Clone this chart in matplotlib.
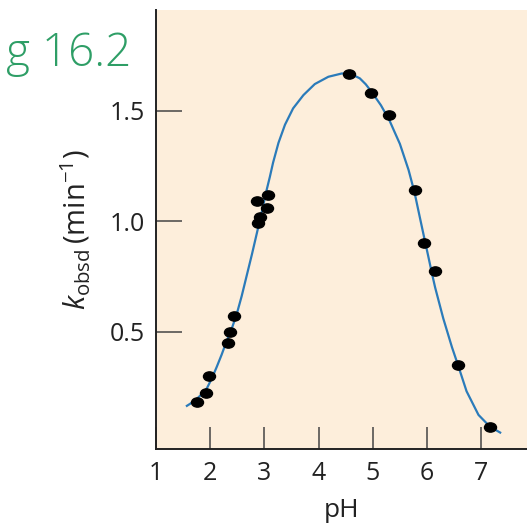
import matplotlib
matplotlib.use("Agg")
import matplotlib.pyplot as plt
from matplotlib.path import Path
from matplotlib.transforms import Affine2D

# ── Style ─────────────────────────────────────────────────────────────────────
BG    = "#fdeedb"
LINE  = "#2b7bba"
GREEN = "#2e9e66"
INK   = "#222222"

plt.rcParams["font.family"] = ["Open Sans", "DejaVu Sans"]
plt.rcParams["mathtext.fontset"] = "custom"
plt.rcParams["mathtext.rm"] = "Open Sans"
plt.rcParams["mathtext.it"] = "Open Sans:italic"

# ── Data ──────────────────────────────────────────────────────────────────────
ph_obs = [1.75, 1.92, 1.97, 2.32, 2.37, 2.44, 2.89, 2.92, 2.87, 3.05, 3.07,
          4.57, 4.97, 5.30, 5.77, 5.94, 6.14, 6.57, 7.16]
k_obs  = [0.18, 0.22, 0.30, 0.45, 0.50, 0.57, 0.99, 1.02, 1.09, 1.06, 1.12,
          1.666, 1.58, 1.48, 1.14, 0.90, 0.775, 0.35, 0.067]

# fitted curve, traced
ph_fit = [1.57, 1.66, 1.75, 1.85, 1.94, 2.03, 2.12, 2.21, 2.30, 2.40, 2.49,
          2.58, 2.67, 2.77, 2.86, 2.95, 3.03, 3.10, 3.16, 3.26, 3.38, 3.53,
          3.72, 3.93, 4.18, 4.43, 4.60, 4.76, 4.87, 4.98, 5.15, 5.31, 5.40,
          5.50, 5.66, 5.77, 5.87, 5.94, 6.02, 6.09, 6.15, 6.30, 6.46, 6.57,
          6.73, 6.95, 7.16, 7.35]
k_fit  = [0.164, 0.178, 0.195, 0.218, 0.244, 0.288, 0.34, 0.395, 0.455, 0.515, 0.58,
          0.66, 0.75, 0.85, 0.945, 1.04, 1.13, 1.20, 1.265, 1.355, 1.437, 1.511,
          1.571, 1.621, 1.654, 1.669, 1.666, 1.647, 1.62, 1.585, 1.525, 1.455, 1.405,
          1.35, 1.232, 1.13, 1.015, 0.935, 0.845, 0.765, 0.70, 0.56, 0.43, 0.35,
          0.23, 0.123, 0.070, 0.043]

x_ticks = [1, 2, 3, 4, 5, 6, 7]
y_ticks = [0.5, 1.0, 1.5]

# ── Figure ────────────────────────────────────────────────────────────────────
fig = plt.figure(figsize=(5.27, 5.30), dpi=100, facecolor="white")
ax = fig.add_axes([0.296, 0.153, 0.704, 0.828])
ax.set_facecolor(BG)

ax.plot(ph_fit, k_fit, color=LINE, lw=1.6, zorder=2,
        solid_joinstyle="round")

dot = Path.unit_circle().transformed(Affine2D().scale(1.3, 1.0))
ax.scatter(ph_obs, k_obs, marker=dot, s=75, color="black", zorder=3)

ax.set_xlim(1, 7.845)
ax.set_ylim(-0.031, 1.956)
ax.set_xticks(x_ticks)
ax.set_xticklabels([str(v) for v in x_ticks])
ax.set_yticks(y_ticks)
ax.set_yticklabels([f"{v:.1f}" for v in y_ticks])

for side in ("top", "right"):
    ax.spines[side].set_visible(False)
for side in ("left", "bottom"):
    ax.spines[side].set_color(INK)
    ax.spines[side].set_linewidth(1.4)

ax.tick_params(axis="x", direction="in", length=16, width=1.1, color="#444444",
               labelsize=18, pad=9, labelcolor=INK)
ax.tick_params(axis="y", direction="in", length=19, width=1.1, color="#444444",
               labelsize=18, pad=8, labelcolor=INK)

ax.set_xlabel("pH", fontsize=19, color=INK, labelpad=8)
ax.set_ylabel(r"$k_{\mathrm{obsd}}\,(\mathrm{min}^{-1})$", fontsize=21,
              color=INK, labelpad=12)

fig.text(131 / 527, 1 - 66 / 530, "g 16.2", fontsize=33, color=GREEN,
         fontweight="light", ha="right", va="baseline")

fig.savefig("out.png", dpi=100, facecolor="white")
